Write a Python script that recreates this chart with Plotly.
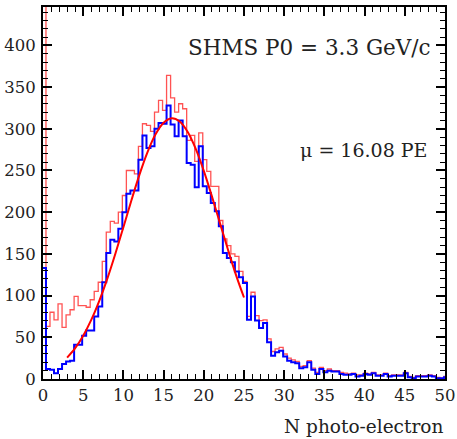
import plotly.graph_objects as go

# histogram binning (left edge of first bin, bin width)
first_edge = -0.13
bin_width = 0.5

# counts per bin, blue histogram
blue_counts = [
    133, 12, 11, 7, 12, 18, 21, 22, 41, 41,
    52, 58, 58, 75, 87, 116, 151, 167, 165, 180,
    200, 222, 226, 226, 263, 292, 277, 279, 300, 307,
    306, 328, 305, 291, 310, 291, 259, 257, 230, 279,
    231, 223, 211, 201, 183, 151, 145, 140, 129, 122,
    115, 71, 99, 70, 61, 67, 44, 28, 32, 34,
    27, 22, 20, 19, 13, 14, 20, 11, 6, 12,
    8, 10, 9, 9, 6, 5, 5, 6, 3, 4,
    6, 5, 7, 4, 4, 6, 3, 4, 4, 4,
    7, 2, 1, 3, 3, 3, 4, 3, 1, 1, 2,
]

# counts per bin, red histogram (first bin goes way off scale)
red_counts = [
    2000, 63, 80, 71, 90, 62, 77, 83, 99, 88,
    88, 86, 95, 105, 116, 141, 176, 189, 187, 200,
    220, 250, 250, 246, 279, 306, 304, 297, 320, 334,
    322, 364, 337, 320, 330, 324, 286, 292, 261, 295,
    263, 249, 231, 231, 190, 168, 160, 150, 147, 129,
    117, 75, 104, 76, 70, 71, 48, 33, 36, 38,
    30, 25, 23, 21, 15, 16, 22, 13, 8, 14,
    10, 12, 10, 10, 8, 7, 6, 7, 5, 5,
    7, 6, 8, 5, 5, 7, 4, 5, 5, 5,
    8, 3, 2, 4, 4, 4, 5, 4, 2, 1, 3,
]

# gaussian fit curve
fit_x = [3, 4, 5, 6, 7, 8, 9, 10, 11, 12, 13, 14, 15, 16, 17, 18, 19, 20, 21, 22, 23, 24, 25]
fit_y = [25.6, 37.0, 51.9, 70.8, 93.7, 120.3, 150.2, 182.0, 214.3, 245.0, 272.0, 293.3,
         307.2, 312.5, 308.7, 296.1, 275.9, 249.6, 219.3, 187.2, 155.2, 124.9, 97.7]

x_ticks = [0, 5, 10, 15, 20, 25, 30, 35, 40, 45, 50]
y_ticks = [0, 50, 100, 150, 200, 250, 300, 350, 400]

title_text = "SHMS P0 = 3.3 GeV/c"
mu_text = "μ = 16.08 PE"
x_title = "N photo-electron"


def step_xy(counts):
    edges = [round(first_edge + bin_width * i, 3) for i in range(len(counts) + 1)]
    return edges, list(counts) + [counts[-1]]


fig = go.Figure()

rx, ry = step_xy(red_counts)
fig.add_trace(go.Scatter(x=rx, y=ry, mode="lines", line_shape="hv",
                         line=dict(color="rgba(255,40,40,0.8)", width=1.3)))

bx, by = step_xy(blue_counts)
fig.add_trace(go.Scatter(x=bx, y=by, mode="lines", line_shape="hv",
                         line=dict(color="#0000ff", width=2)))

fig.add_trace(go.Scatter(x=fit_x, y=fit_y, mode="lines", line_shape="spline",
                         line=dict(color="#ff0000", width=2)))

font = "DejaVu Serif, serif"
axis_common = dict(
    showgrid=False, zeroline=False, showline=True, linecolor="black", linewidth=2,
    mirror="allticks", ticks="inside", ticklen=9, tickwidth=1.5, tickcolor="black",
    tickfont=dict(family=font, size=16.5, color="#222"), automargin=False,
)

fig.update_xaxes(range=[0, 50], tickvals=x_ticks,
                 minor=dict(dtick=1, ticks="inside", ticklen=5, tickcolor="black", tickwidth=1.2),
                 **axis_common)
fig.update_yaxes(range=[0, 446], tickvals=y_ticks, ticklabelstandoff=2,
                 minor=dict(dtick=10, ticks="inside", ticklen=5, tickcolor="black", tickwidth=1.2),
                 **axis_common)

fig.add_annotation(x=33.2, y=397, xref="x", yref="y", text=title_text, showarrow=False,
                   font=dict(family=font, size=21.5, color="#222"))
fig.add_annotation(x=39.9, y=275, xref="x", yref="y", text=mu_text, showarrow=False,
                   font=dict(family=font, size=19, color="#222"))
fig.add_annotation(x=1.0, y=-0.129, xref="paper", yref="paper", text=x_title, showarrow=False,
                   xanchor="right", yanchor="middle",
                   font=dict(family=font, size=18.5, color="#222"))

fig.update_layout(
    width=457, height=439, autosize=False,
    margin=dict(l=43, r=12, t=7, b=60, autoexpand=False),
    paper_bgcolor="white", plot_bgcolor="white",
    showlegend=False,
)

# drop the default page margin so the figure sits at the window corner
fig.write_html("out.html", config={"displayModeBar": False},
               post_script="document.body.style.margin='0';")
